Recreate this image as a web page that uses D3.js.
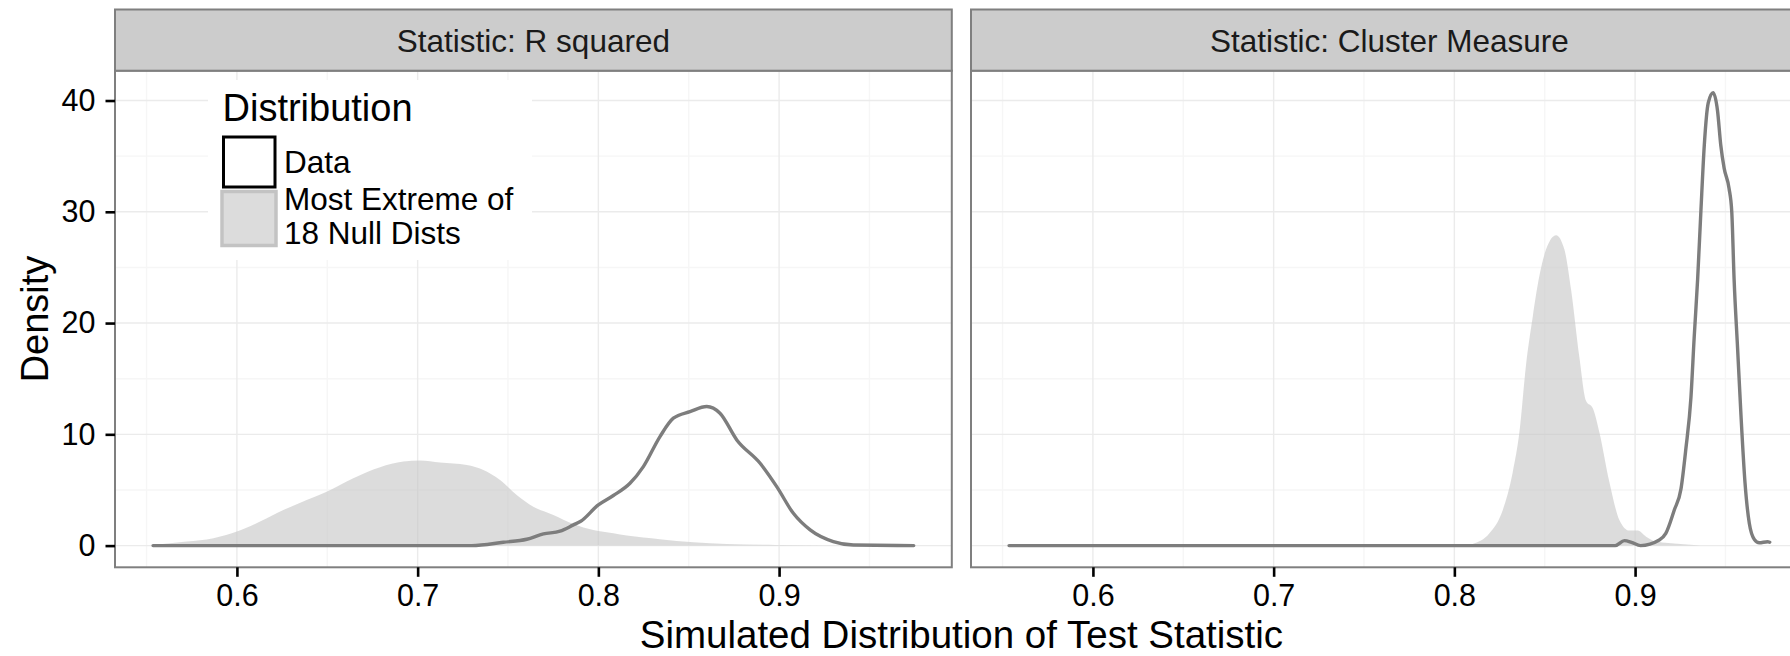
<!DOCTYPE html>
<html>
<head>
<meta charset="utf-8">
<script src="https://cdn.jsdelivr.net/npm/d3@7"></script>
<style>
  html, body { margin: 0; padding: 0; background: #fff; }
  svg { display: block; font-family: "Liberation Sans", Arial, Helvetica, sans-serif; }
</style>
</head>
<body>
<svg id="chart" width="1790" height="656"></svg>
<script>
// Facet titles
const facetTitles = ["Statistic: R squared", "Statistic: Cluster Measure"];

// Axis breaks
const xTicks = [0.6, 0.7, 0.8, 0.9];
const xMinorTicks = [0.55, 0.65, 0.75, 0.85, 0.95];
const yTicks = [0, 10, 20, 30, 40];
const yMinorTicks = [5, 15, 25, 35];

// Legend entries
const legendTitle = "Distribution";
const legendLabels = [["Data"], ["Most Extreme of", "18 Null Dists"]];

// R squared: density of the most extreme null distribution
const rsqNullX = [0.5536, 0.5722, 0.587, 0.6, 0.6128, 0.6257, 0.6386, 0.6497, 0.6644, 0.6792, 0.6921, 0.7013, 0.7124,
  0.7272, 0.7364, 0.7456, 0.7548, 0.764, 0.7751, 0.7862, 0.7972, 0.8083, 0.8157, 0.834, 0.8526, 0.871, 0.898, 0.93, 0.9745];
const rsqNullY = [0.05, 0.36, 0.66, 1.26, 2.16, 3.2, 4.1, 4.85, 6.05, 7.04, 7.55, 7.64, 7.46,
  7.25, 6.8, 5.9, 4.55, 3.5, 2.76, 1.95, 1.4, 1.1, 0.9, 0.57, 0.3, 0.15, 0.05, 0.01, 0];

// R squared: density of the observed data
const rsqDataX = [0.5536, 0.73, 0.7474, 0.7604, 0.7696, 0.7788, 0.7862, 0.79, 0.8, 0.8083, 0.8175, 0.8249, 0.8341,
  0.8415, 0.8507, 0.86, 0.8673, 0.8766, 0.8895, 0.8987, 0.9079, 0.9172, 0.93, 0.9411, 0.9745];
const rsqDataY = [0, 0, 0.3, 0.57, 1.05, 1.3, 1.86, 2.16, 3.66, 4.5, 5.6, 7.1, 9.8,
  11.45, 12.04, 12.5, 11.9, 9.5, 7.4, 5.3, 2.9, 1.41, 0.36, 0.05, 0];

// Cluster measure: density of the most extreme null distribution
const clusterNullX = [0.5536, 0.805, 0.8101, 0.8194, 0.8268, 0.8323, 0.836, 0.8397, 0.8434, 0.847, 0.8507, 0.8563,
  0.8609, 0.8646, 0.8692, 0.8729, 0.8766, 0.8802, 0.8858, 0.8913, 0.8968, 0.9015, 0.9061, 0.9117, 0.925, 0.94, 0.9745];
const clusterNullY = [0, 0, 0.14, 1.1, 3.2, 6.6, 10.2, 16.3, 20.6, 24.2, 26.6, 27.9,
  26.6, 23.0, 16.9, 13.0, 12.35, 10.2, 5.7, 2.3, 1.35, 1.35, 0.8, 0.36, 0.15, 0, 0];

// Cluster measure: density of the observed data
const clusterDataX = [0.5536, 0.889, 0.8941, 0.898, 0.903, 0.9134, 0.917, 0.9217, 0.9254, 0.9281, 0.9309, 0.9327,
  0.9346, 0.9364, 0.9383, 0.9405, 0.9432, 0.9456, 0.9474, 0.9493, 0.952, 0.9535, 0.9548, 0.9567, 0.9586, 0.9608,
  0.9632, 0.966, 0.9687, 0.9733, 0.9745];
const clusterDataY = [0, 0, 0.45, 0.3, 0, 0.5, 1.1, 3.2, 5.1, 8.7, 13.3, 18.7,
  23.9, 30.0, 36.0, 39.8, 40.7, 39.1, 36.0, 33.9, 32.1, 30.0, 23.9, 17.8, 11.7, 5.7,
  2.0, 0.55, 0.25, 0.35, 0.3];

const facetSeries = [
  { nullX: rsqNullX, nullY: rsqNullY, dataX: rsqDataX, dataY: rsqDataY },
  { nullX: clusterNullX, nullY: clusterNullY, dataX: clusterDataX, dataY: clusterDataY }
];

// ---- layout ----
const svg = d3.select("#chart");
const panelW = 836.8, panelGap = 19.2;
const panelLefts = [115, 115 + panelW + panelGap];
const panelTop = 70.7, panelBottom = 567.3;
const stripTop = 9.5;

const xDomain = [0.53254, 0.99557];
const yDomain = [-1.95, 42.68];
const y = d3.scaleLinear().domain(yDomain).range([panelBottom, panelTop]);

const gridMajor = "#ebebeb", gridMinor = "#f6f6f6", borderCol = "#7f7f7f";
const lineCol = "#7d7d7d";

const defs = svg.append("defs");

facetSeries.forEach((s, i) => {
  const x0 = panelLefts[i];
  const x = d3.scaleLinear().domain(xDomain).range([x0, x0 + panelW]);
  const g = svg.append("g");

  defs.append("clipPath").attr("id", "clip" + i)
    .append("rect").attr("x", x0).attr("y", panelTop).attr("width", panelW).attr("height", panelBottom - panelTop);

  g.append("rect").attr("x", x0).attr("y", panelTop).attr("width", panelW)
    .attr("height", panelBottom - panelTop).attr("fill", "#fff");

  // grid lines
  const grid = g.append("g").attr("clip-path", `url(#clip${i})`);
  grid.selectAll(".vmin").data(xMinorTicks).join("line")
    .attr("x1", d => x(d)).attr("x2", d => x(d)).attr("y1", panelTop).attr("y2", panelBottom)
    .attr("stroke", gridMinor).attr("stroke-width", 1.4);
  grid.selectAll(".hmin").data(yMinorTicks).join("line")
    .attr("x1", x0).attr("x2", x0 + panelW).attr("y1", d => y(d)).attr("y2", d => y(d))
    .attr("stroke", gridMinor).attr("stroke-width", 1.4);
  grid.selectAll(".vmaj").data(xTicks).join("line")
    .attr("x1", d => x(d)).attr("x2", d => x(d)).attr("y1", panelTop).attr("y2", panelBottom)
    .attr("stroke", gridMajor).attr("stroke-width", 1.4);
  grid.selectAll(".hmaj").data(yTicks).join("line")
    .attr("x1", x0).attr("x2", x0 + panelW).attr("y1", d => y(d)).attr("y2", d => y(d))
    .attr("stroke", gridMajor).attr("stroke-width", 1.4);

  // densities
  const marks = g.append("g").attr("clip-path", `url(#clip${i})`);
  const nullPts = s.nullX.map((v, k) => [v, s.nullY[k]]);
  const dataPts = s.dataX.map((v, k) => [v, s.dataY[k]]);

  marks.append("path").datum(nullPts)
    .attr("d", d3.area().x(d => x(d[0])).y0(y(0)).y1(d => y(d[1])).curve(d3.curveMonotoneX))
    .attr("fill", "#c6c6c6").attr("fill-opacity", 0.62);

  marks.append("path").datum(dataPts)
    .attr("d", d3.line().x(d => x(d[0])).y(d => y(d[1])).curve(d3.curveMonotoneX))
    .attr("fill", "none").attr("stroke", lineCol).attr("stroke-width", 3.4)
    .attr("stroke-linejoin", "round").attr("stroke-linecap", "round");

  // panel border
  g.append("rect").attr("x", x0).attr("y", panelTop).attr("width", panelW)
    .attr("height", panelBottom - panelTop).attr("fill", "none")
    .attr("stroke", borderCol).attr("stroke-width", 2);

  // strip
  g.append("rect").attr("x", x0).attr("y", stripTop).attr("width", panelW)
    .attr("height", panelTop - stripTop).attr("fill", "#cccccc")
    .attr("stroke", borderCol).attr("stroke-width", 2);
  g.append("text").attr("x", x0 + panelW / 2).attr("y", 51.5)
    .attr("text-anchor", "middle").attr("font-size", 31.5).attr("fill", "#1a1a1a")
    .text(facetTitles[i]);

  // x axis
  const xa = g.append("g").attr("transform", `translate(0,${panelBottom})`)
    .call(d3.axisBottom(x).tickValues(xTicks).tickSize(9.5).tickPadding(8).tickFormat(d3.format(".1f")));
  xa.select(".domain").remove();
  xa.selectAll(".tick line").attr("stroke", "#000").attr("stroke-width", 2.6);
  xa.selectAll(".tick text").attr("font-size", 30.5).attr("fill", "#000")
    .attr("font-family", "Liberation Sans, Arial, sans-serif").attr("dy", "0.71em");

  if (i === 0) {
    const ya = g.append("g").attr("transform", `translate(${x0},0)`)
      .call(d3.axisLeft(y).tickValues(yTicks).tickSize(9.5).tickPadding(10));
    ya.select(".domain").remove();
    ya.selectAll(".tick line").attr("stroke", "#000").attr("stroke-width", 2.6);
    ya.selectAll(".tick text").attr("font-size", 30.5).attr("fill", "#000")
      .attr("font-family", "Liberation Sans, Arial, sans-serif");
  }
});

// axis titles
svg.append("text").attr("x", (panelLefts[0] + panelLefts[1] + panelW) / 2).attr("y", 648)
  .attr("text-anchor", "middle").attr("font-size", 38.5).attr("fill", "#000")
  .text("Simulated Distribution of Test Statistic");
svg.append("text").attr("transform", `translate(48,${(panelTop + panelBottom) / 2}) rotate(-90)`)
  .attr("text-anchor", "middle").attr("font-size", 38).attr("fill", "#000")
  .text("Density");

// legend inside the first panel
const lg = svg.append("g");
lg.append("rect").attr("x", 208).attr("y", 80).attr("width", 324).attr("height", 180).attr("fill", "#fff");
lg.append("text").attr("x", 222.5).attr("y", 121).attr("font-size", 38).attr("fill", "#000").text(legendTitle);
lg.append("rect").attr("x", 223.5).attr("y", 137).attr("width", 51.5).attr("height", 50)
  .attr("fill", "#fff").attr("stroke", "#000").attr("stroke-width", 3);
lg.append("rect").attr("x", 222).attr("y", 191.5).attr("width", 54).attr("height", 54)
  .attr("fill", "#dcdcdc").attr("stroke", "#c3c3c3").attr("stroke-width", 3.5);
const labelBaselines = [[173.3], [210, 244.3]];
legendLabels.forEach((lines, k) => {
  lines.forEach((t, j) => {
    lg.append("text").attr("x", 284).attr("y", labelBaselines[k][j])
      .attr("font-size", 31.5).attr("fill", "#000").text(t);
  });
});
</script>
</body>
</html>
